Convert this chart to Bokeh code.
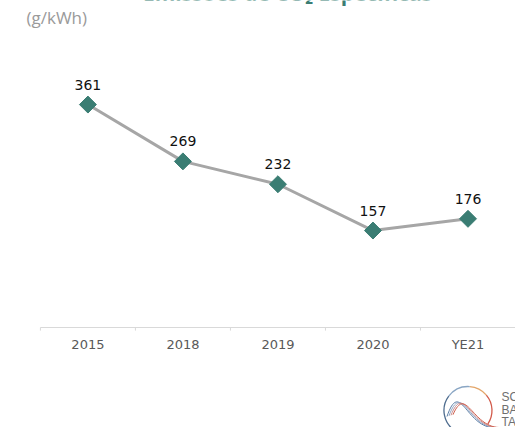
import math
from bokeh.plotting import figure
from bokeh.models import ColumnDataSource, Label, Range1d, FixedTicker
from bokeh.core.properties import value
from bokeh.embed import file_html
from bokeh.resources import INLINE

categories = ["2015", "2018", "2019", "2020", "YE21"]
values = [361, 269, 232, 157, 176]
labels = ["361", "269", "232", "157", "176"]

TEAL = "#3a7d73"
W, H = 515, 427

xpos = [i + 0.5 for i in range(len(categories))]
src = ColumnDataSource(dict(x=xpos, y=values, lab=labels))

p = figure(width=W, height=H, x_range=Range1d(-0.42, 5.0),
           y_range=Range1d(-161.9, 529.5), output_backend="svg",
           toolbar_location=None, min_border_left=0, min_border_right=0,
           min_border_top=0, min_border_bottom=0)
p.outline_line_color = None
p.grid.visible = False
p.yaxis.visible = False

p.xaxis.fixed_location = 0
p.xaxis.axis_line_color = None
p.xaxis.ticker = FixedTicker(ticks=xpos)
p.xaxis.major_label_overrides = {x: c for x, c in zip(xpos, categories)}
p.xaxis.major_tick_line_color = None
p.xaxis.minor_tick_line_color = None
p.xaxis.major_label_text_font = "DejaVu Sans"
p.xaxis.major_label_text_font_size = "13px"
p.xaxis.major_label_text_color = "#595959"
p.xaxis.major_label_standoff = 3

# baseline and category separator ticks
n = len(categories)
p.segment(x0=[0], y0=[0], x1=[n], y1=[0], line_color="#d9d9d9", line_width=1)
bounds = list(range(n))
p.segment(x0=bounds, y0=[0] * n, x1=bounds, y1=[-5] * n,
          line_color="#d9d9d9", line_width=1)

p.line("x", "y", source=src, line_color="#a6a6a6", line_width=3)
p.scatter("x", "y", source=src, marker="square", size=12, angle=math.pi / 4,
          fill_color=TEAL, line_color=TEAL)

p.text("x", "y", text="lab", source=src, y_offset=-15,
       text_align="center", text_baseline="bottom",
       text_font=value("DejaVu Sans"),
       text_font_size="14px", text_color="#111111")

title = Label(x=287, y=H + 8, x_units="screen", y_units="screen",
              text="Emissões de CO₂ Específicas", text_align="center",
              text_baseline="alphabetic", text_font="Open Sans",
              text_font_size="21px", text_font_style="bold", text_color=TEAL)
p.add_layout(title)

unit = Label(x=26, y=H - 17, x_units="screen", y_units="screen",
             text="(g/kWh)", text_align="left", text_baseline="middle",
             text_font="Open Sans", text_font_size="17px",
             text_color="#9a9a9a")
p.add_layout(unit)

for t, yy in zip(["SO", "BA", "TA"], [396, 409, 421]):
    p.add_layout(Label(x=501, y=H - yy, x_units="screen", y_units="screen",
                       text=t, text_align="left", text_baseline="middle",
                       text_font="Liberation Sans", text_font_size="12px",
                       text_color="#6f6f6f"))

# logo ring
arc_parts = [(-0.6, 0.7, "#d25a4a"), (0.7, 1.5, "#e3a66a"),
             (1.5, 2.5, "#8aa6c4"), (2.5, 4.2, "#4f6d8f")]
for a0, a1, c in arc_parts:
    p.arc(x=[4.5], y=[-134.4], radius=24, radius_units="screen",
          start_angle=a0, end_angle=a1, line_color=c, line_width=1.3)

def px(xp):
    return 4.5 + (xp - 469) / 95.0

def py(yp):
    return -(yp - 327) / 0.6176

curve_cols = ["#5b7ea6", "#8ea6c6", "#c98c8c", "#d0604f"]
for i, c in enumerate(curve_cols):
    d = i * 2
    p.bezier(x0=[px(448 + d)], y0=[py(416 - d * 0.3)],
             x1=[px(494 + d)], y1=[py(427)],
             cx0=[px(461 + d)], cy0=[py(378 + d)],
             cx1=[px(467 + d)], cy1=[py(426)],
             line_color=c, line_width=1)

open("out.html", "w").write(file_html(p, INLINE))
